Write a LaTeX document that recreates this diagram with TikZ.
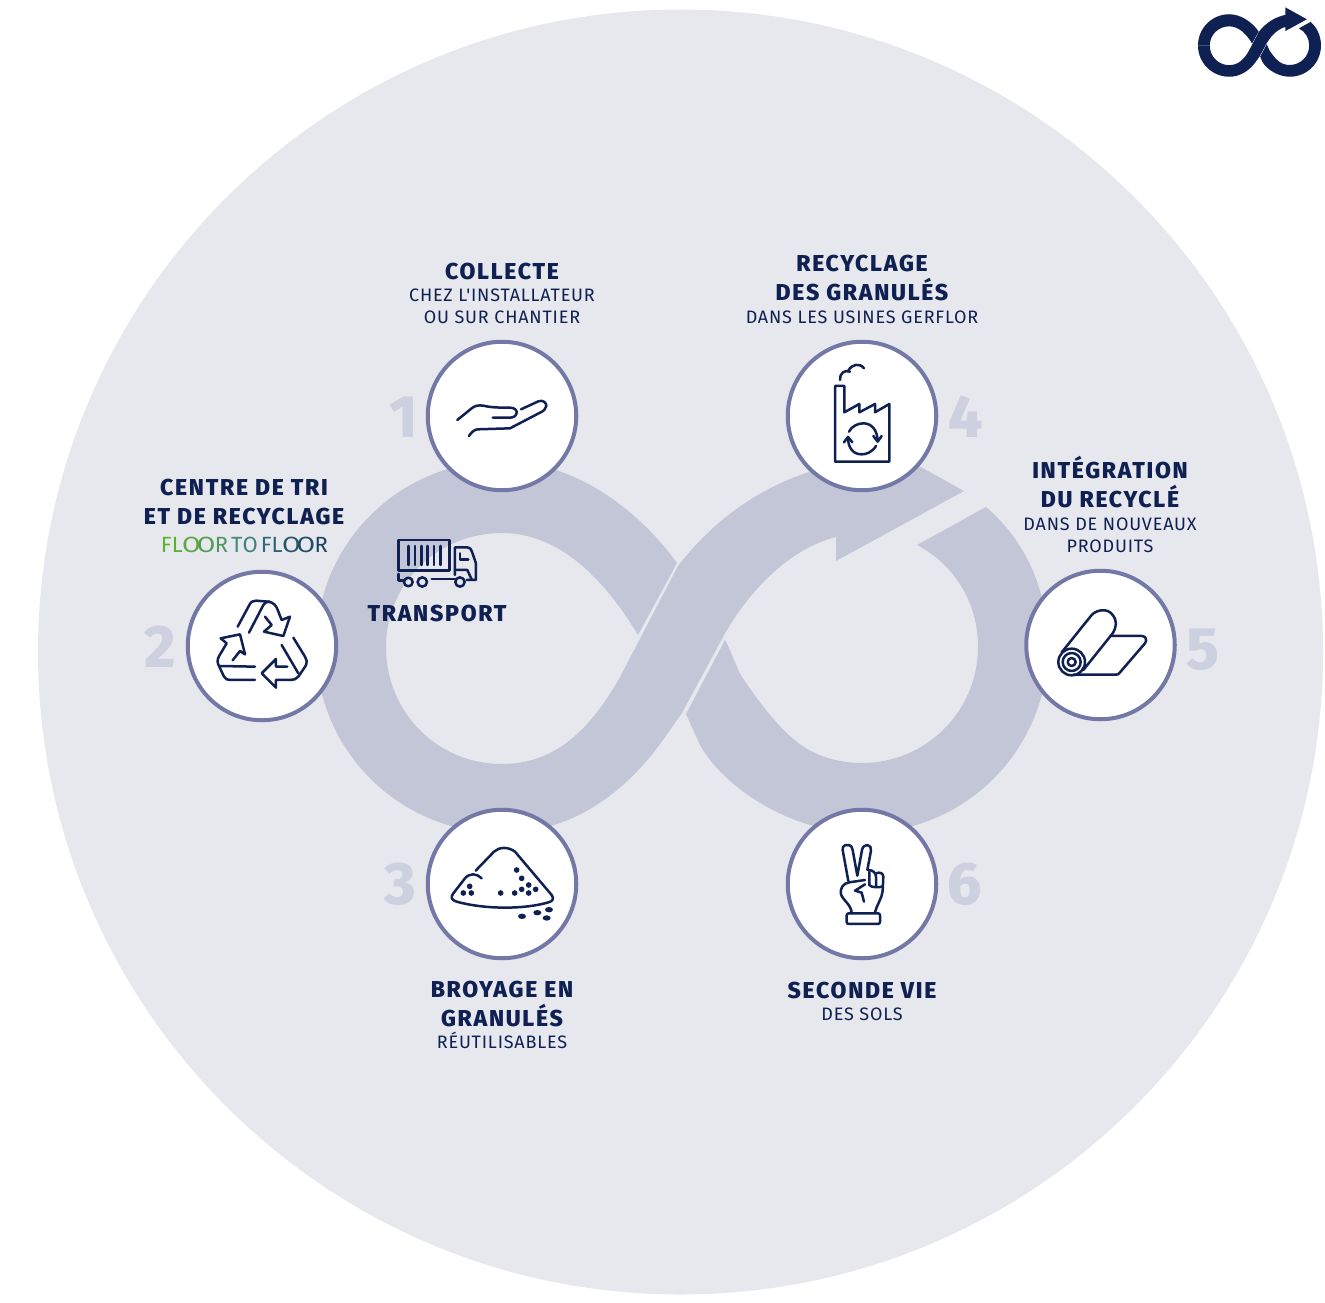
\documentclass[tikz,border=0pt]{standalone}
\usepackage{fontspec}
\usepackage{graphicx}
\setmainfont{Fira Sans}
\newfontfamily\heavyf{Fira Sans ExtraBold}[LetterSpace=7.5]
\newfontfamily\numf{Fira Sans ExtraBold}
\newfontfamily\regf{Fira Sans}[LetterSpace=4.5]
\newfontfamily\plainf{Fira Sans}
\definecolor{navy}{HTML}{0F2052}
\definecolor{bgc}{HTML}{E7E8ED}
\definecolor{band}{HTML}{C3C6D7}
\definecolor{numc}{HTML}{CDD0DE}
\definecolor{ringc}{HTML}{7478A6}
\newcommand{\ttlf}{\heavyf\fontsize{23}{22}\selectfont}
\newcommand{\subf}{\regf\fontsize{18}{22}\selectfont}
\newcommand{\wideo}{\scalebox{1.22}[1]{O}}
\newcommand{\infbands}[1]{%
 \fill[#1] (316,647) .. controls (316,750) and (399,833) .. (502,833)
   .. controls (565,833) and (620,800) .. (663,740) -- (682,713) -- (723,637)
   .. controls (745,597) and (785,550) .. (836,537) -- (836,561) -- (964,491) -- (836,420) -- (836,465)
   .. controls (785,475) and (725,505) .. (678,566) -- (620,677)
   .. controls (590,730) and (555,764) .. (502,764)
   .. controls (437,764) and (386,712) .. (386,647) -- cycle;
 \fill[#1] (316,647) .. controls (316,544) and (399,461) .. (502,461)
   .. controls (570,461) and (635,505) .. (677,563) -- (638,635)
   .. controls (605,580) and (560,533) .. (502,533)
   .. controls (438,533) and (386,583) .. (386,647) -- cycle;
 \fill[#1] (986,507) .. controls (1025,540) and (1048,590) .. (1048,647)
   .. controls (1048,750) and (965,833) .. (862,833)
   .. controls (795,833) and (725,790) .. (700,745) -- (686,714) -- (725,640)
   .. controls (733,655) and (735,665) .. (742,677)
   .. controls (752,692) and (775,725) .. (797,742)
   .. controls (815,756) and (838,763) .. (862,763)
   .. controls (926,763) and (978,711) .. (978,647)
   .. controls (978,603) and (955,565) .. (917,545) -- cycle;}
\tikzset{
 ring/.style={circle,draw=ringc,line width=4pt,fill=white,minimum size=148.5pt,inner sep=0pt},
 label/.style={anchor=south,inner sep=0pt,align=center,text=navy,font=\fontsize{10}{22}\selectfont},
 numb/.style={inner sep=0pt,text=numc,font=\numf\fontsize{60}{60}\selectfont},
 icon/.style={draw=navy,line width=2.5pt,line cap=round,line join=round},
 zoomed/.style={x=.3333pt,y=-.3333pt}
}
\begin{document}
\begin{tikzpicture}[x=1pt,y=-1pt]
\useasboundingbox (0,0) rectangle (1325,1303);
\fill[white] (0,0) rectangle (1325,1303);
\fill[bgc] (680.5,652) circle[radius=642.5pt];
\infbands{band}
\begin{scope}[shift={(1144.9,-63.2)},scale=.168]
\infbands{navy}
\end{scope}
% rings
\node[ring] (c1) at (502,416) {};
\node[ring] (c4) at (862,416) {};
\node[ring] (c2) at (262,646) {};
\node[ring] (c5) at (1100.5,645) {};
\node[ring] (c3) at (502,884) {};
\node[ring] (c6) at (862,884) {};
% numbers
\node[numb] (n1) at (404,417) {1};
\node[numb] (n2) at (160,647) {2};
\node[numb] (n3) at (400.5,884) {3};
\node[numb] (n4) at (965.5,417) {4};
\node[numb] (n5) at (1203,650) {5};
\node[numb] (n6) at (964.5,884) {6};
% labels
\node[label] (t1) at (502,323.5) {\ttlf COLLECTE\\\subf CHEZ L'INSTALLATEUR\\\subf OU SUR CHANTIER};
\node[label] (t4) at (862,323.5) {\ttlf RECYCLAGE\\[4.5pt]\ttlf DES GRANULÉS\\[1pt]\subf DANS LES USINES GERFLOR};
\node[label] (t5) at (1110,552.5) {\ttlf INTÉGRATION\\[4.5pt]\ttlf DU RECYCLÉ\\[1pt]\subf DANS DE NOUVEAUX\\\subf PRODUITS};
\node[label] (t2) at (244,525) {\ttlf CENTRE DE TRI\\[7pt]\ttlf ET DE RECYCLAGE};
\node[label] (tt) at (437,622) {\ttlf TRANSPORT};
\node[label] (t3) at (502,1048.5) {\ttlf BROYAGE EN\\[5pt]\ttlf GRANULÉS\\\subf RÉUTILISABLES};
\node[label] (t6) at (862,1020.5) {\ttlf SECONDE VIE\\\subf DES SOLS};
\node[anchor=south,inner sep=0pt,font=\plainf\fontsize{22}{22}\selectfont] (ftf) at (244.5,552.5) {\color[HTML]{5DB52B}F\color[HTML]{5AB030}L\kern-.5pt\color[HTML]{58A83C}\wideo\kern-4pt\color[HTML]{559E50}\wideo\kern-.5pt\color[HTML]{4F9664}R\kern3pt\color[HTML]{47887A}T\color[HTML]{3F7F7E}O\kern3pt\color[HTML]{2F6A78}F\color[HTML]{2A6070}L\kern-.5pt\color[HTML]{25566A}\wideo\kern-4pt\color[HTML]{204C66}\wideo\kern-.5pt\color[HTML]{1C4262}R};
% icon 1
\begin{scope}[shift={(420,340)},zoomed]
\draw[icon] (112,240) -- (155,205) .. controls (165,197) and (175,195) .. (190,197) .. controls (215,203) and (240,203) .. (270,203) .. controls (285,203) and (291,212) .. (290,218) .. controls (289,228) and (280,233) .. (270,233) -- (218,233);
\draw[icon] (303,208) -- (355,184) .. controls (370,178) and (380,190) .. (379,198) .. controls (378,208) and (370,213) .. (360,218) -- (270,265) -- (172,268) .. controls (160,270) and (152,280) .. (147,288);
\end{scope}
% icon 4
\begin{scope}[shift={(780,340)},zoomed]
\draw[icon] (165,365) -- (165,138) -- (193,138) -- (193,217) -- (238,192) -- (238,217) -- (285,192) -- (285,217) -- (328,192) -- (328,365) -- cycle;
\draw[icon] (180,120) .. controls (178,100) and (195,88) .. (210,95);
\draw[icon] (205,92) .. controls (215,72) and (240,68) .. (252,85);
\draw[icon] (207,275) .. controls (215,258) and (235,250) .. (250,250) .. controls (275,250) and (292,270) .. (293,303);
\draw[icon] (280,288) -- (293,305) -- (305,288);
\draw[icon] (288,318) .. controls (275,338) and (258,343) .. (245,343) .. controls (220,343) and (204,325) .. (204,292);
\draw[icon] (192,307) -- (204,291) -- (217,307);
\end{scope}
% icon 5
\begin{scope}[shift={(1020,565)},zoomed]
\draw[icon] (125,262) -- (215,150) .. controls (232,132) and (265,130) .. (278,150) .. controls (292,168) and (290,185) .. (278,205) -- (190,315);
\draw[icon] (270,213) -- (365,213) .. controls (378,213) and (382,225) .. (375,235) -- (300,322) .. controls (296,328) and (292,329) .. (288,329) -- (160,329);
\draw[icon] (155,291) circle[radius=40];
\draw[icon] (155,291) circle[radius=27];
\draw[icon] (155,291) circle[radius=12];
\end{scope}
% icon 2
\begin{scope}[shift={(180,565)},zoomed]
\draw[icon] (173,185) -- (208,120) .. controls (213,110) and (220,107) .. (228,107) -- (265,110) .. controls (280,112) and (288,122) .. (292,132) -- (305,165) -- (330,155) -- (310,213) -- (252,200) -- (275,180) -- (255,155);
\draw[icon] (207,203) -- (250,120) .. controls (255,112) and (262,109) .. (270,110);
\draw[icon] (158,286) -- (180,258) -- (195,268) -- (180,208) -- (122,220) -- (140,235) -- (118,272) .. controls (110,285) and (112,295) .. (118,305) -- (132,335) .. controls (136,343) and (144,345) .. (152,345) -- (225,345);
\draw[icon] (118,303) -- (225,305);
\draw[icon] (340,218) -- (375,275) .. controls (385,292) and (378,302) .. (372,310) -- (355,335) .. controls (350,343) and (340,345) .. (330,345) -- (288,345) -- (288,368) -- (245,325) -- (288,282) -- (288,305) -- (322,305);
\draw[icon] (305,240) -- (355,325);
\end{scope}
% icon 3
\begin{scope}[shift={(420,805)},zoomed]
\draw[icon] (167,197) -- (222,140) .. controls (238,125) and (265,125) .. (285,140) -- (395,270) .. controls (405,283) and (395,290) .. (385,292) .. controls (320,312) and (200,315) .. (110,290) .. controls (92,285) and (92,275) .. (100,265) -- (135,220) .. controls (150,203) and (170,205) .. (185,220);
\foreach \p in {(290,195),(305,220),(326,240),(305,253),(347,253),(284,264),(326,264),(242,264),(149,244),(130,264),(154,264)} \fill[navy] \p circle[radius=8.5];
\foreach \p in {(306,334),(352,323),(387,314),(380,339)} \fill[navy] \p ellipse[x radius=12,y radius=8];
\end{scope}
% icon 6
\begin{scope}[shift={(780,805)},zoomed]
\draw[icon] (205,228) -- (188,135) .. controls (186,122) and (198,119) .. (203,120) .. controls (213,120) and (218,128) .. (218,135) -- (232,212) -- (246,135) .. controls (248,124) and (256,120) .. (262,120) .. controls (270,121) and (275,128) .. (273,137) -- (262,195);
\draw[icon] (265,195) .. controls (280,195) and (288,205) .. (288,215) -- (288,245);
\draw[icon] (268,200) -- (268,240) .. controls (272,248) and (300,248) .. (306,245);
\draw[icon] (288,205) .. controls (300,200) and (310,205) .. (310,215) -- (308,258) .. controls (306,280) and (290,300) .. (285,322);
\draw[icon] (255,225) -- (208,232) .. controls (188,235) and (180,250) .. (183,268) .. controls (188,285) and (215,300) .. (215,325);
\draw[icon] (255,238) -- (225,257) -- (245,263) -- (252,290);
\draw[icon,rounded corners=2pt] (200,325) rectangle (300,357);
\end{scope}
% truck
\begin{scope}[shift={(130,460)},zoomed]
\draw[icon] (805,240) rectangle (958,332);
\foreach \x in {836,855,874,893,912,931} \draw[icon] (\x,258) -- (\x,315);
\draw[icon] (975,345) -- (975,262) -- (1012,262) .. controls (1020,262) and (1024,268) .. (1026,275) -- (1038,310) -- (1038,360) -- (1010,360);
\draw[icon] (975,330) -- (1012,330) -- (1025,358);
\draw[icon] (990,280) -- (990,298) -- (1015,298);
\draw[icon] (805,342) -- (805,362) -- (820,362);
\draw[icon] (835,366) circle[radius=13];
\draw[icon] (877,366) circle[radius=14];
\draw[icon] (990,366) circle[radius=14];
\draw[icon] (905,357) -- (975,357);
\end{scope}
\end{tikzpicture}
\end{document}
